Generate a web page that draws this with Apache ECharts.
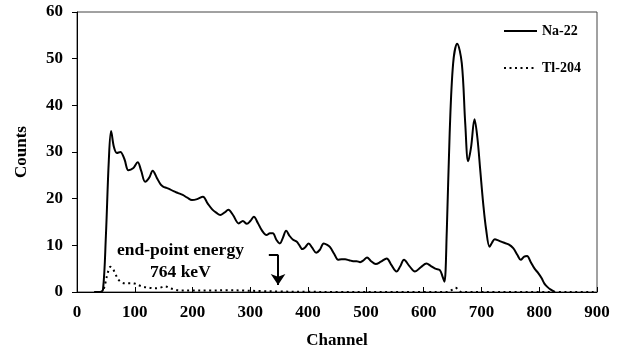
<!DOCTYPE html>
<html>
<head>
<meta charset="utf-8">
<script src="https://cdn.jsdelivr.net/npm/echarts@6/dist/echarts.min.js"></script>
<style>
  html, body { margin: 0; padding: 0; background: #fff; }
  #chart { width: 622px; height: 351px; }
</style>
</head>
<body>
<div id="chart"></div>
<script>
// [channel, counts]
const na22 = [
  [30, 0], [40, 0], [45, 0.5], [50, 12], [55, 28], [59, 34.5], [64, 31], [69, 29.8], [75, 30],
  [82, 28.5], [89, 26.1], [97, 26.5], [105, 27.8], [111, 26], [118, 23.6], [125, 24.5], [131, 26],
  [138, 24.5], [145, 23], [149, 22.6], [155, 22.3], [161, 22], [167, 21.6], [175, 21.2], [183, 20.8],
  [191, 20.2], [199, 19.7], [208, 19.9], [218, 20.4], [226, 19], [234, 17.7], [241, 17], [248, 16.5],
  [255, 17], [262, 17.6], [270, 16.5], [280, 14.7], [287, 15.2], [294, 14.6], [300, 15.2], [306, 16.1],
  [313, 14.8], [320, 13.2], [328, 12.2], [334, 12.6], [339, 12.6], [345, 11.2], [351, 10.4], [356, 11.5],
  [362, 13.1], [368, 12], [374, 11.2], [380, 10.8], [385, 10], [390, 9.2], [395, 9.6], [401, 10.4],
  [407, 9.5], [414, 8.4], [420, 9], [427, 10.4], [433, 10.1], [438, 9.6], [445, 8.2], [452, 6.9],
  [458, 7], [464, 7], [471, 6.8], [478, 6.6], [484, 6.6], [490, 6.4], [496, 6.8], [502, 7.4],
  [509, 6.6], [517, 6], [526, 6.5], [536, 7.2], [544, 5.8], [553, 4.4], [559, 5.4], [566, 6.9],
  [575, 5.6], [585, 4.4], [595, 5.3], [605, 6.1], [612, 5.6], [620, 5], [628, 4.7], [633, 3.2],
  [636, 2.2], [640, 13], [645, 34], [651, 49], [658, 53.2], [666, 49], [672, 36], [677, 28],
  [682, 31], [688, 37], [693, 33], [698, 26], [703, 19], [708, 13.5], [714, 9.7], [718, 10.5],
  [723, 11.3], [730, 11], [738, 10.6], [747, 10.2], [755, 9.4], [762, 8], [768, 6.9], [774, 7.6],
  [779, 7.7], [785, 6.5], [792, 5], [798, 4.1], [804, 3], [809, 1.8], [814, 1.1], [820, 0.5], [827, 0]
];

const tl204 = [
  [30, 0], [40, 0], [45, 0.3], [49, 1.9], [53, 4], [58, 5.4], [62, 5], [66, 4], [72, 2.6],
  [81, 1.9], [90, 1.9], [100, 1.8], [108, 1.4], [115, 1.1], [125, 0.9], [133, 0.8], [143, 0.9],
  [153, 1.2], [161, 0.8], [170, 0.5], [179, 0.3], [200, 0.3], [230, 0.3], [260, 0.4], [290, 0.3],
  [320, 0.2], [350, 0.1], [400, 0.05], [450, 0], [600, 0], [640, 0], [650, 0.5], [655, 0.9],
  [660, 0.5], [665, 0], [700, 0], [900, 0]
];

// end-point energy arrow (channel, counts)
const arrowFrom = [348, 8];
const arrowTo = [348, 1.5];
const arrowStub = [332, 8];

const font = "'Liberation Serif', 'Times New Roman', serif";

const chart = echarts.init(document.getElementById("chart"));

const option = {
  animation: false,
  grid: {
    left: 77, right: 25, top: 12, bottom: 59,
    outerBoundsMode: "none",
    show: true, borderColor: "#444", borderWidth: 1
  },
  legend: {
    orient: "vertical",
    left: 498, top: 19,
    itemWidth: 33, itemHeight: 10, itemGap: 23,
    itemStyle: { opacity: 0 },
    textStyle: { fontFamily: font, fontWeight: "bold", fontSize: 14, color: "#000" },
    data: ["Na-22", "Tl-204"]
  },
  xAxis: {
    type: "value", min: 0, max: 900, interval: 100,
    name: "Channel", nameLocation: "middle", nameGap: 40,
    nameTextStyle: { fontFamily: font, fontWeight: "bold", fontSize: 17, color: "#000" },
    axisLine: { lineStyle: { color: "#000", width: 1 } },
    axisTick: { inside: true, length: 5, lineStyle: { color: "#000" } },
    axisLabel: { fontFamily: font, fontWeight: "bold", fontSize: 17, color: "#000", margin: 12 },
    splitLine: { show: false }
  },
  yAxis: {
    type: "value", min: 0, max: 60, interval: 10,
    name: "Counts", nameLocation: "middle", nameGap: 47,
    nameTextStyle: { fontFamily: font, fontWeight: "bold", fontSize: 17, color: "#000" },
    axisLine: { show: true, lineStyle: { color: "#000", width: 1 } },
    axisTick: { show: true, length: 5, lineStyle: { color: "#000" } },
    axisLabel: { fontFamily: font, fontWeight: "bold", fontSize: 17, color: "#000", margin: 14 },
    splitLine: { show: false }
  },
  series: [
    {
      name: "Na-22",
      type: "line",
      data: na22,
      smooth: 0.35,
      symbol: "none",
      lineStyle: { color: "#000", width: 2 },
      itemStyle: { color: "#000" },
      markLine: {
        silent: true,
        symbol: ["none", "arrow"],
        symbolSize: 11,
        label: { show: false },
        lineStyle: { color: "#000", width: 2, type: "solid" },
        data: [
          [{ coord: arrowFrom }, { coord: arrowTo }],
          [{ coord: arrowStub, symbol: "none" }, { coord: arrowFrom, symbol: "none" }]
        ]
      }
    },
    {
      name: "Tl-204",
      type: "line",
      data: tl204,
      smooth: 0.35,
      symbol: "none",
      lineStyle: { color: "#000", width: 2, type: [2, 3.5] },
      itemStyle: { color: "#000" }
    }
  ],
  graphic: [
    {
      type: "text", left: 117, top: 241,
      style: { text: "end-point energy", font: "bold 17.5px " + font, fill: "#000" }
    },
    {
      type: "text", left: 150, top: 263,
      style: { text: "764 keV", font: "bold 17.5px " + font, fill: "#000" }
    }
  ]
};

chart.setOption(option);
</script>
</body>
</html>
